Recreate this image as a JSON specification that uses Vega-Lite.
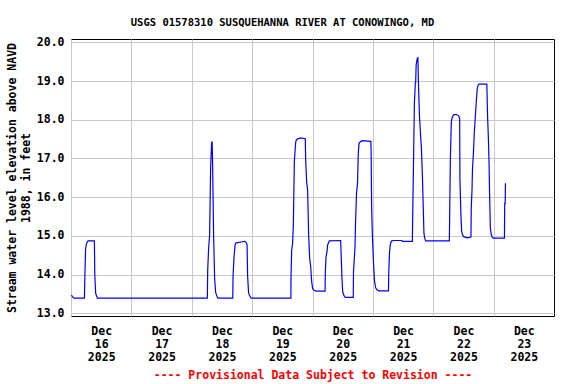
{
  "$schema": "https://vega.github.io/schema/vega-lite/v6.json",
  "autosize": "none",
  "width": 483,
  "height": 277,
  "padding": {"left": 71, "top": 39, "right": 22, "bottom": 68},
  "background": "white",
  "title": {
    "text": "USGS 01578310 SUSQUEHANNA RIVER AT CONOWINGO, MD",
    "font": "DejaVu Sans Mono",
    "fontSize": 10.5,
    "fontWeight": "bold",
    "color": "black",
    "anchor": "middle",
    "dx": -30,
    "offset": 8
  },
  "data": {
    "values": [
      {"t": "2025-12-16T00:10", "v": 13.47},
      {"t": "2025-12-16T00:35", "v": 13.43},
      {"t": "2025-12-16T01:10", "v": 13.39},
      {"t": "2025-12-16T05:20", "v": 13.39},
      {"t": "2025-12-16T05:27", "v": 13.80},
      {"t": "2025-12-16T05:48", "v": 14.66},
      {"t": "2025-12-16T06:06", "v": 14.78},
      {"t": "2025-12-16T06:30", "v": 14.85},
      {"t": "2025-12-16T06:54", "v": 14.87},
      {"t": "2025-12-16T09:18", "v": 14.87},
      {"t": "2025-12-16T09:27", "v": 14.01},
      {"t": "2025-12-16T09:48", "v": 13.52},
      {"t": "2025-12-16T10:06", "v": 13.46},
      {"t": "2025-12-16T10:30", "v": 13.39},
      {"t": "2025-12-18T06:12", "v": 13.39},
      {"t": "2025-12-18T06:20", "v": 14.09},
      {"t": "2025-12-18T06:43", "v": 14.70},
      {"t": "2025-12-18T07:06", "v": 15.00},
      {"t": "2025-12-18T07:30", "v": 16.75},
      {"t": "2025-12-18T07:54", "v": 17.41},
      {"t": "2025-12-18T08:06", "v": 17.44},
      {"t": "2025-12-18T08:18", "v": 16.83},
      {"t": "2025-12-18T08:42", "v": 14.98},
      {"t": "2025-12-18T09:06", "v": 13.89},
      {"t": "2025-12-18T09:30", "v": 13.54},
      {"t": "2025-12-18T09:54", "v": 13.46},
      {"t": "2025-12-18T10:24", "v": 13.39},
      {"t": "2025-12-18T16:18", "v": 13.39},
      {"t": "2025-12-18T16:25", "v": 13.97},
      {"t": "2025-12-18T16:49", "v": 14.46},
      {"t": "2025-12-18T17:13", "v": 14.76},
      {"t": "2025-12-18T17:27", "v": 14.81},
      {"t": "2025-12-18T17:42", "v": 14.82},
      {"t": "2025-12-18T21:06", "v": 14.86},
      {"t": "2025-12-18T21:42", "v": 14.82},
      {"t": "2025-12-18T22:00", "v": 14.76},
      {"t": "2025-12-18T22:12", "v": 13.97},
      {"t": "2025-12-18T22:36", "v": 13.52},
      {"t": "2025-12-18T23:00", "v": 13.46},
      {"t": "2025-12-18T23:36", "v": 13.39},
      {"t": "2025-12-19T15:24", "v": 13.39},
      {"t": "2025-12-19T15:28", "v": 13.95},
      {"t": "2025-12-19T15:43", "v": 14.63},
      {"t": "2025-12-19T16:06", "v": 14.82},
      {"t": "2025-12-19T16:23", "v": 15.28},
      {"t": "2025-12-19T16:47", "v": 16.92},
      {"t": "2025-12-19T17:18", "v": 17.41},
      {"t": "2025-12-19T17:34", "v": 17.48},
      {"t": "2025-12-19T17:58", "v": 17.50},
      {"t": "2025-12-19T19:12", "v": 17.53},
      {"t": "2025-12-19T21:08", "v": 17.51},
      {"t": "2025-12-19T21:16", "v": 17.00},
      {"t": "2025-12-19T21:40", "v": 16.40},
      {"t": "2025-12-19T22:04", "v": 16.18},
      {"t": "2025-12-19T22:28", "v": 15.02},
      {"t": "2025-12-19T22:52", "v": 14.42},
      {"t": "2025-12-19T23:16", "v": 14.22},
      {"t": "2025-12-19T23:40", "v": 13.82},
      {"t": "2025-12-20T00:03", "v": 13.64},
      {"t": "2025-12-20T00:27", "v": 13.60},
      {"t": "2025-12-20T01:24", "v": 13.57},
      {"t": "2025-12-20T05:00", "v": 13.57},
      {"t": "2025-12-20T05:06", "v": 14.07},
      {"t": "2025-12-20T05:23", "v": 14.46},
      {"t": "2025-12-20T05:46", "v": 14.59},
      {"t": "2025-12-20T06:00", "v": 14.76},
      {"t": "2025-12-20T06:24", "v": 14.83},
      {"t": "2025-12-20T06:42", "v": 14.87},
      {"t": "2025-12-20T11:12", "v": 14.88},
      {"t": "2025-12-20T11:42", "v": 13.92},
      {"t": "2025-12-20T12:00", "v": 13.56},
      {"t": "2025-12-20T12:24", "v": 13.47},
      {"t": "2025-12-20T12:48", "v": 13.43},
      {"t": "2025-12-20T13:06", "v": 13.41},
      {"t": "2025-12-20T16:12", "v": 13.41},
      {"t": "2025-12-20T16:18", "v": 14.07},
      {"t": "2025-12-20T16:54", "v": 14.72},
      {"t": "2025-12-20T17:06", "v": 15.32},
      {"t": "2025-12-20T17:30", "v": 16.10},
      {"t": "2025-12-20T17:54", "v": 16.36},
      {"t": "2025-12-20T18:12", "v": 17.13},
      {"t": "2025-12-20T18:30", "v": 17.39},
      {"t": "2025-12-20T19:00", "v": 17.43},
      {"t": "2025-12-20T19:48", "v": 17.46},
      {"t": "2025-12-20T23:12", "v": 17.44},
      {"t": "2025-12-20T23:18", "v": 17.22},
      {"t": "2025-12-20T23:30", "v": 15.75},
      {"t": "2025-12-20T23:48", "v": 15.02},
      {"t": "2025-12-21T00:12", "v": 14.38},
      {"t": "2025-12-21T00:36", "v": 13.86},
      {"t": "2025-12-21T01:06", "v": 13.66},
      {"t": "2025-12-21T01:30", "v": 13.62},
      {"t": "2025-12-21T02:12", "v": 13.58},
      {"t": "2025-12-21T06:12", "v": 13.58},
      {"t": "2025-12-21T06:18", "v": 14.03},
      {"t": "2025-12-21T06:36", "v": 14.55},
      {"t": "2025-12-21T06:54", "v": 14.76},
      {"t": "2025-12-21T07:06", "v": 14.82},
      {"t": "2025-12-21T07:30", "v": 14.87},
      {"t": "2025-12-21T08:30", "v": 14.88},
      {"t": "2025-12-21T11:30", "v": 14.88},
      {"t": "2025-12-21T11:48", "v": 14.86},
      {"t": "2025-12-21T15:42", "v": 14.86},
      {"t": "2025-12-21T15:48", "v": 15.37},
      {"t": "2025-12-21T16:06", "v": 16.66},
      {"t": "2025-12-21T16:30", "v": 18.42},
      {"t": "2025-12-21T16:54", "v": 18.98},
      {"t": "2025-12-21T17:00", "v": 18.94},
      {"t": "2025-12-21T17:12", "v": 19.41},
      {"t": "2025-12-21T17:24", "v": 19.50},
      {"t": "2025-12-21T17:42", "v": 19.59},
      {"t": "2025-12-21T17:54", "v": 19.60},
      {"t": "2025-12-21T18:06", "v": 18.98},
      {"t": "2025-12-21T18:30", "v": 18.12},
      {"t": "2025-12-21T19:00", "v": 17.56},
      {"t": "2025-12-21T19:18", "v": 17.26},
      {"t": "2025-12-21T19:42", "v": 16.53},
      {"t": "2025-12-21T20:00", "v": 15.80},
      {"t": "2025-12-21T20:18", "v": 15.07},
      {"t": "2025-12-21T20:36", "v": 14.94},
      {"t": "2025-12-21T21:00", "v": 14.87},
      {"t": "2025-12-22T06:24", "v": 14.87},
      {"t": "2025-12-22T06:30", "v": 15.38},
      {"t": "2025-12-22T06:48", "v": 17.00},
      {"t": "2025-12-22T07:12", "v": 17.95},
      {"t": "2025-12-22T07:30", "v": 18.05},
      {"t": "2025-12-22T08:00", "v": 18.12},
      {"t": "2025-12-22T09:00", "v": 18.14},
      {"t": "2025-12-22T10:06", "v": 18.10},
      {"t": "2025-12-22T10:30", "v": 18.04},
      {"t": "2025-12-22T10:36", "v": 16.49},
      {"t": "2025-12-22T11:00", "v": 15.54},
      {"t": "2025-12-22T11:18", "v": 15.11},
      {"t": "2025-12-22T11:42", "v": 15.02},
      {"t": "2025-12-22T12:06", "v": 14.98},
      {"t": "2025-12-22T13:30", "v": 14.95},
      {"t": "2025-12-22T15:00", "v": 14.97},
      {"t": "2025-12-22T15:06", "v": 15.71},
      {"t": "2025-12-22T15:24", "v": 16.18},
      {"t": "2025-12-22T15:36", "v": 16.72},
      {"t": "2025-12-22T16:00", "v": 17.17},
      {"t": "2025-12-22T16:18", "v": 17.65},
      {"t": "2025-12-22T16:42", "v": 18.05},
      {"t": "2025-12-22T17:06", "v": 18.47},
      {"t": "2025-12-22T17:30", "v": 18.81},
      {"t": "2025-12-22T17:54", "v": 18.90},
      {"t": "2025-12-22T18:18", "v": 18.92},
      {"t": "2025-12-22T21:18", "v": 18.92},
      {"t": "2025-12-22T21:24", "v": 18.64},
      {"t": "2025-12-22T21:36", "v": 18.08},
      {"t": "2025-12-22T21:54", "v": 17.56},
      {"t": "2025-12-22T22:12", "v": 16.83},
      {"t": "2025-12-22T22:24", "v": 16.06},
      {"t": "2025-12-22T22:42", "v": 15.20},
      {"t": "2025-12-22T23:06", "v": 15.02},
      {"t": "2025-12-22T23:30", "v": 14.96},
      {"t": "2025-12-22T23:54", "v": 14.94},
      {"t": "2025-12-23T04:18", "v": 14.94},
      {"t": "2025-12-23T04:24", "v": 15.84},
      {"t": "2025-12-23T04:36", "v": 15.84},
      {"t": "2025-12-23T04:42", "v": 16.36}
    ]
  },
  "mark": {"type": "line", "color": "#0000ff", "strokeWidth": 1.2, "clip": true},
  "encoding": {
    "x": {
      "field": "t",
      "type": "temporal",
      "scale": {
        "domain": [
          {"year": 2025, "month": 12, "date": 16},
          {"year": 2025, "month": 12, "date": 24}
        ],
        "nice": false
      },
      "axis": {
        "values": [
          {"year": 2025, "month": 12, "date": 16},
          {"year": 2025, "month": 12, "date": 17},
          {"year": 2025, "month": 12, "date": 18},
          {"year": 2025, "month": 12, "date": 19},
          {"year": 2025, "month": 12, "date": 20},
          {"year": 2025, "month": 12, "date": 21},
          {"year": 2025, "month": 12, "date": 22},
          {"year": 2025, "month": 12, "date": 23}
        ],
        "labelExpr": "[timeFormat(datum.value, '%b'), timeFormat(datum.value, '%d'), timeFormat(datum.value, '%Y')]",
        "labelOffset": 30.2,
        "labelLineHeight": 13,
        "labelPadding": 9,
        "labelFlush": false,
        "labelOverlap": false,
        "ticks": false,
        "domain": false,
        "grid": true,
        "title": "---- Provisional Data Subject to Revision ----",
        "titleColor": "#ff0000",
        "titlePadding": 7
      }
    },
    "y": {
      "field": "v",
      "type": "quantitative",
      "scale": {"domain": [12.93, 20.085], "nice": false, "zero": false},
      "axis": {
        "values": [13, 14, 15, 16, 17, 18, 19, 20],
        "format": ".1f",
        "ticks": false,
        "domain": false,
        "grid": true,
        "labelPadding": 7,
        "title": ["Stream water level elevation above NAVD", "1988, in feet"],
        "titlePadding": 5,
        "titleLineHeight": 14
      }
    }
  },
  "config": {
    "view": {"stroke": "black", "strokeWidth": 1},
    "axis": {
      "labelFont": "DejaVu Sans Mono",
      "labelFontSize": 11.5,
      "labelFontWeight": "bold",
      "labelColor": "black",
      "titleFont": "DejaVu Sans Mono",
      "titleFontSize": 11.5,
      "titleFontWeight": "bold",
      "titleColor": "black",
      "gridColor": "#c8c8c8",
      "gridWidth": 1,
      "gridOpacity": 1
    }
  }
}
